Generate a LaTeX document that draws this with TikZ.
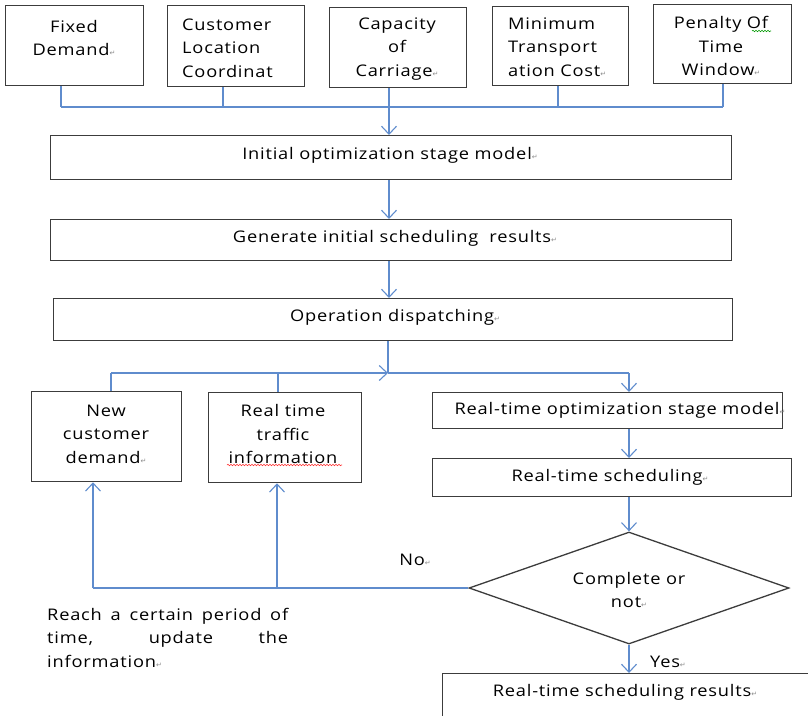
\documentclass[tikz,border=0pt]{standalone}
\usepackage{fontspec}
\setmainfont{Open Sans}[FakeStretch=1.14,LetterSpace=5]
\newfontfamily\markfont{DejaVu Sans}
\usetikzlibrary{arrows.meta,shapes.geometric,decorations.pathmorphing,calc}
\definecolor{flowblue}{RGB}{95,140,205}
\definecolor{boxgray}{RGB}{60,60,60}
% paragraph-return mark printed after some labels
\newcommand\retmark{{\markfont\fontsize{7}{7}\selectfont\textcolor{black!45}{↵}}}

\begin{document}
\begin{tikzpicture}[x=1pt,y=-1pt,
  every node/.style={font=\fontsize{16}{23.5}\selectfont, inner sep=0pt},
  box/.style={draw=boxgray, line width=1.3pt, anchor=north west, fill=white},
  flow/.style={draw=flowblue, line width=1.2pt},
  arr/.style={flow, -{Straight Barb[length=8pt,width=15pt,line width=1.1pt]}},
  wavy/.style={line width=0.6pt, decorate, decoration={snake, amplitude=0.7pt, segment length=3pt}},
]
\useasboundingbox (0,0) rectangle (808,715);
\clip (0,0) rectangle (808,715);

% ---- input boxes ----
\node[box, minimum width=138pt, minimum height=80pt] (f1) at (5,5) {};
\node[box, minimum width=137pt, minimum height=81pt] (f2) at (167,5) {};
\node[box, minimum width=137pt, minimum height=80pt] (f3) at (329,7) {};
\node[box, minimum width=136pt, minimum height=79pt] (f4) at (492,6) {};
\node[box, minimum width=138pt, minimum height=79pt] (f5) at (653,4) {};

\node[align=center] (t1) at (74,38) {Fixed\\Demand\retmark};
\node[align=left, anchor=west] (t2) at (182,48) {Customer\\Location\\Coordinat};
\node[align=center] (t3) at (397,49) {Capacity\\of\\Carriage\retmark};
\node[align=left, anchor=west] (t4) at (508,47) {Minimum\\Transport\\ation Cost\retmark};
\node[align=center] (t5) at (721,46) {Penalty Of\\Time\\Window\retmark};

% ---- main stages ----
\node[box, minimum width=681pt, minimum height=44pt] (A) at (50,135) {};
\node[box, minimum width=681pt, minimum height=41pt] (B) at (50,219) {};
\node[box, minimum width=679pt, minimum height=42pt] (C) at (53,298) {};
\node (ta) at (390,155) {Initial optimization stage model\retmark};
\node (tb) at (395,238) {Generate initial scheduling\ \ results\retmark};
\node (tc) at (395,317) {Operation dispatching\retmark};

% ---- real-time stage ----
\node[box, minimum width=150pt, minimum height=90pt] (NC) at (31,391) {};
\node[box, minimum width=153pt, minimum height=90pt] (RT) at (208,392) {};
\node[box, minimum width=350pt, minimum height=36pt] (RO) at (432,392) {};
\node[box, minimum width=359pt, minimum height=38pt] (RS) at (432,458) {};
\node[draw=boxgray, line width=1.3pt, diamond, aspect=2.86,
      minimum width=320pt, minimum height=112pt] (D) at (629,588) {};
\node[box, minimum width=400pt, minimum height=80pt] (RR) at (442,673) {};

\node[align=center] (tn) at (106,434) {New\\customer\\demand\retmark};
\node[align=center] (tr) at (283,434) {Real time\\traffic\\information};
\node (tro) at (620,410) {Real-time optimization stage model\retmark};
\node (trs) at (610,477) {Real-time scheduling\retmark};
\node[align=center] (td) at (629,590) {Complete or\\not\retmark};
\node (trr) at (625,692) {Real-time scheduling results\retmark};
\node (tno) at (415,560) {No\retmark};
\node (tyes) at (668,662) {Yes\retmark};
\node[anchor=north west, align=left] (tnote) at (47,608)
  {\makebox[241pt][s]{Reach a certain period of}\\
   \makebox[241pt][s]{time, update the}\\
   information\retmark};

% spell-check underlines
\draw[wavy, green!60!black] (752,31) -- (771,31);
\draw[wavy, red!80] (227,465) -- (342,465);

% ---- junction points ----
\coordinate (j1) at (61,107);
\coordinate (j2) at (223,107);
\coordinate (j3) at (389,107);
\coordinate (j4) at (558,107);
\coordinate (j5) at (723,107);
\coordinate (k)  at (388,373);
\coordinate (l1) at (111,373);
\coordinate (l2) at (278,373);
\coordinate (r1) at (629,373);
\coordinate (m1) at (93,588);
\coordinate (m2) at (277,588);

% ---- connectors ----
\draw[flow] (j1 |- f1.south) -- (j1);
\draw[flow] (j2 |- f2.south) -- (j2);
\draw[flow] (j3 |- f3.south) -- (j3);
\draw[flow] (j4 |- f4.south) -- (j4);
\draw[flow] (j5 |- f5.south) -- (j5);
\draw[flow] (j1) -- (j5);
\draw[arr] (j3) -- (j3 |- A.north);
\draw[arr] (A.south -| j3) -- (B.north -| j3);
\draw[arr] (B.south -| j3) -- (C.north -| j3);

\draw[flow] (C.south -| k) -- (k);
\draw[arr] (l1) -- (k);
\draw[flow] (k) -- (r1);
\draw[arr] (r1) -- (r1 |- RO.north);
\draw[flow] (l1) -- (l1 |- NC.north);
\draw[flow] (l2) -- (l2 |- RT.north);
\draw[arr] (RO.south -| r1) -- (RS.north -| r1);
\draw[arr] (RS.south -| r1) -- (D.north);
\draw[arr] (D.south) -- (D.south |- RR.north);

\draw[flow] (D.west) -- (m1);
\draw[arr] (m1) -- (m1 |- NC.south);
\draw[arr] (m2) -- (m2 |- RT.south);
\end{tikzpicture}
\end{document}
